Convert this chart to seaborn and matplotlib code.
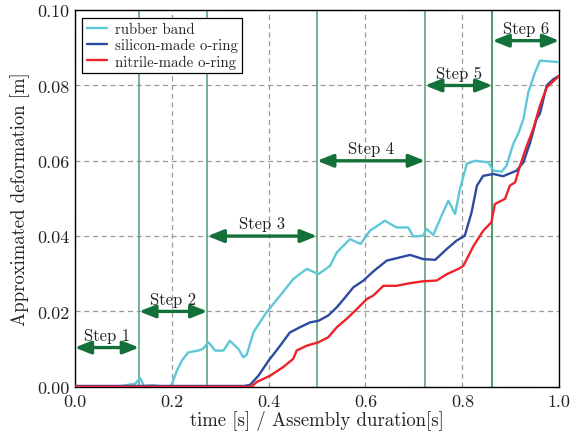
import matplotlib
matplotlib.use("Agg")
import matplotlib.pyplot as plt
import seaborn as sns
import pandas as pd

# Data
rubber_x = [0, 0.09, 0.11, 0.125, 0.135, 0.143, 0.16, 0.18, 0.195, 0.2, 0.21, 0.221, 0.234, 0.255,
            0.265, 0.276, 0.29, 0.307, 0.32, 0.338, 0.348, 0.355, 0.369, 0.396, 0.424, 0.451, 0.479,
            0.503, 0.527, 0.541, 0.568, 0.590, 0.609, 0.630, 0.640, 0.664, 0.688, 0.699, 0.719, 0.726,
            0.740, 0.757, 0.771, 0.785, 0.795, 0.809, 0.826, 0.853, 0.864, 0.881, 0.891, 0.905, 0.915,
            0.926, 0.936, 0.950, 0.960, 0.981, 1.0]
rubber_y = [0, 0, 0.0005, 0.0008, 0.0023, 0.0002, 0.0004, 0.0001, 0, 0.0005, 0.004, 0.0069, 0.0091,
            0.0096, 0.0101, 0.0118, 0.0096, 0.0096, 0.0122, 0.010, 0.0078, 0.0085, 0.0145, 0.0198,
            0.0242, 0.0286, 0.0313, 0.0299, 0.0321, 0.0357, 0.0392, 0.0379, 0.0414, 0.0432, 0.0441,
            0.0423, 0.0423, 0.0399, 0.0401, 0.0419, 0.0403, 0.0454, 0.0494, 0.0459, 0.0525, 0.0592,
            0.0600, 0.0596, 0.0574, 0.0571, 0.0587, 0.0645, 0.0671, 0.0711, 0.0782, 0.0835, 0.0866,
            0.0864, 0.0862]

silicon_x = [0, 0.35, 0.362, 0.379, 0.40, 0.424, 0.444, 0.465, 0.486, 0.503, 0.523, 0.541, 0.558,
             0.575, 0.596, 0.616, 0.644, 0.692, 0.719, 0.744, 0.768, 0.788, 0.805, 0.819, 0.830,
             0.843, 0.864, 0.884, 0.912, 0.926, 0.940, 0.953, 0.960, 0.974, 0.988, 1.0]
silicon_y = [0.0002, 0.0002, 0.0005, 0.0029, 0.0069, 0.0109, 0.0144, 0.0158, 0.0171, 0.0175, 0.0189,
             0.0211, 0.0237, 0.0264, 0.0282, 0.0306, 0.0335, 0.035, 0.0339, 0.0337, 0.0366, 0.0388,
             0.0401, 0.0463, 0.0534, 0.0560, 0.0565, 0.0559, 0.0574, 0.0596, 0.0649, 0.0711, 0.0725,
             0.080, 0.0817, 0.0826]

nitrile_x = [0, 0.365, 0.376, 0.403, 0.430, 0.451, 0.458, 0.479, 0.503, 0.523, 0.541, 0.561, 0.582,
             0.603, 0.616, 0.637, 0.664, 0.692, 0.719, 0.747, 0.768, 0.792, 0.802, 0.823, 0.843,
             0.860, 0.867, 0.888, 0.898, 0.909, 0.919, 0.933, 0.946, 0.960, 0.974, 1.0]
nitrile_y = [0, 0, 0.0013, 0.0029, 0.0052, 0.0074, 0.0096, 0.0109, 0.0118, 0.0131, 0.0158, 0.0180,
             0.0206, 0.0233, 0.0242, 0.0268, 0.0268, 0.0275, 0.028, 0.0282, 0.0299, 0.0313, 0.0321,
             0.0374, 0.0414, 0.0437, 0.0485, 0.0499, 0.0534, 0.0543, 0.0587, 0.064, 0.0684, 0.0746,
             0.0795, 0.0826]

# step boundaries and arrow / label heights
step_names = ['Step 1', 'Step 2', 'Step 3', 'Step 4', 'Step 5', 'Step 6']
step_bounds = [0.0, 0.133, 0.274, 0.5, 0.723, 0.862, 1.0]
arrow_y = [0.0104, 0.020, 0.040, 0.060, 0.080, 0.0919]

sns.set_theme(style='whitegrid')
plt.rcParams['font.family'] = 'serif'
plt.rcParams['font.serif'] = ['cmr10', 'DejaVu Serif']
plt.rcParams['mathtext.fontset'] = 'cm'
plt.rcParams['axes.formatter.use_mathtext'] = True

fig = plt.figure(figsize=(5.71, 4.35), dpi=100)
ax = fig.add_axes([0.1308, 0.1087, 0.8487, 0.8656])
ax.set_facecolor('white')

# step separators
for i, b in enumerate(step_bounds[1:-1]):
    c = '#1f7a45' if i == 4 else '#4f9e72'
    ax.axvline(b, color=c, lw=1.1, zorder=1)

sns.lineplot(x=rubber_x, y=rubber_y, color='#5ec8d8', lw=1.7, label='rubber band', ax=ax, zorder=3)
sns.lineplot(x=silicon_x, y=silicon_y, color='#2d4aa0', lw=1.7, label='silicon-made o-ring', ax=ax, zorder=3)
sns.lineplot(x=nitrile_x, y=nitrile_y, color='#ec2329', lw=1.7, label='nitrile-made o-ring', ax=ax, zorder=3)

# step arrows
for i, name in enumerate(step_names):
    x0, x1 = step_bounds[i], step_bounds[i + 1]
    y = arrow_y[i]
    ax.annotate('', xy=(x1, y), xytext=(x0, y),
                arrowprops=dict(arrowstyle='<|-|>,head_length=0.8,head_width=0.32',
                                color='#137038', lw=2.4, shrinkA=0, shrinkB=0), zorder=4)
    ax.text((x0 + x1) / 2, y + 0.0013, name, ha='center', va='bottom', fontsize=12, color='#222222')

ax.set_xlim(0, 1)
ax.set_ylim(0, 0.1)
ax.set_xticks([0.0, 0.2, 0.4, 0.6, 0.8, 1.0])
ax.set_yticks([0.0, 0.02, 0.04, 0.06, 0.08, 0.10])
ax.set_xticklabels(['0.0', '0.2', '0.4', '0.6', '0.8', '1.0'])
ax.set_yticklabels(['0.00', '0.02', '0.04', '0.06', '0.08', '0.10'])
ax.tick_params(labelsize=13, colors='#222222', length=0)
ax.tick_params(axis='x', pad=5)
ax.tick_params(axis='y', pad=4)
ax.grid(True, color='#9a9a9a', ls=(0, (4, 3)), lw=0.9)
for s in ax.spines.values():
    s.set_color('black')
    s.set_linewidth(1.0)

ax.set_xlabel('time [s] / Assembly duration[s]', fontsize=13.5, color='#222222', labelpad=1)
ax.set_ylabel('Approximated deformation [m]', fontsize=13.5, color='#222222', labelpad=5)

leg = ax.legend(loc='upper left', fontsize=10.7, frameon=True, fancybox=False, framealpha=1,
                edgecolor='black', handlelength=1.4, borderpad=0.3, labelspacing=0.15,
                handletextpad=0.5, borderaxespad=0.5)
leg.get_frame().set_linewidth(0.9)

fig.savefig('out.png', dpi=100)
